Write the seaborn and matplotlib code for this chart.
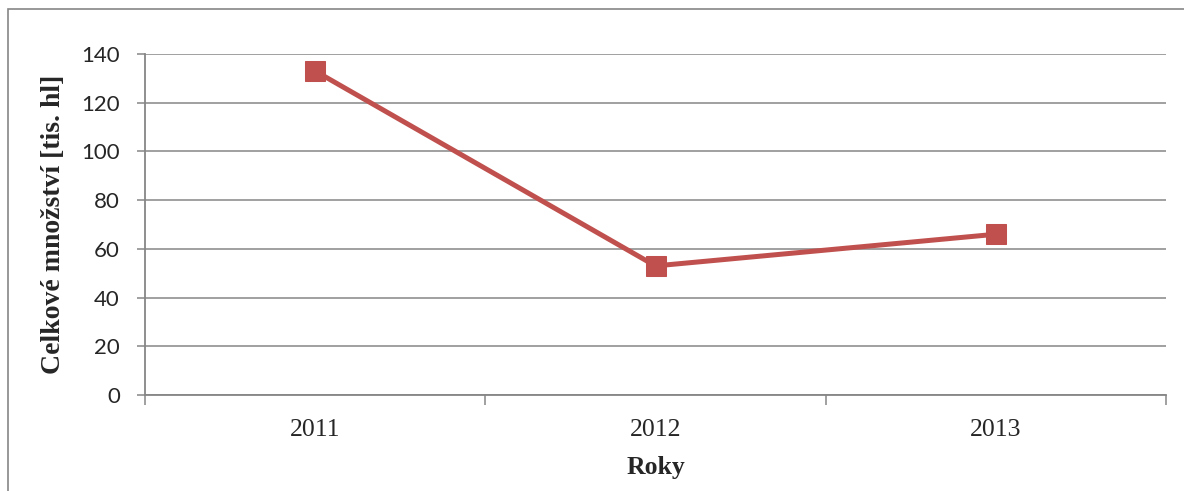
import matplotlib
matplotlib.use("Agg")
import matplotlib.pyplot as plt
import seaborn as sns
from matplotlib.patches import Rectangle

# data
years = ["2011", "2012", "2013"]
amounts = [133, 53, 66]

sns.set_style("white")
plt.rcParams["font.family"] = ["Liberation Serif", "DejaVu Serif"]

grey = "#868686"
red = "#C0504D"

fig = plt.figure(figsize=(11.84, 4.91), dpi=100)
ax = fig.add_axes([145 / 1184, 96 / 491, 1021 / 1184, 341 / 491])

# outer chart frame (Excel style), right/bottom edges cut off
fig.patches.append(Rectangle((8 / 1184, -0.05), 1.2, (491 - 9) / 491 + 0.05,
                             transform=fig.transFigure, fill=False,
                             edgecolor=grey, linewidth=1.2))

sns.lineplot(x=years, y=amounts, ax=ax, color=red, linewidth=3.6,
             marker="s", markersize=14, markeredgecolor=red)

ax.set_ylim(0, 140)
ax.set_yticks(range(0, 141, 20))
ax.set_xlim(-0.5, 2.5)
ax.set_xticks([0, 1, 2])
ax.set_xticklabels(years)
ax.set_xticks([-0.5, 0.5, 1.5, 2.5], minor=True)

ax.grid(axis="y", color=grey, linewidth=1.1)
ax.set_axisbelow(True)
for side in ["top", "right"]:
    ax.spines[side].set_visible(False)
for side in ["left", "bottom"]:
    ax.spines[side].set_color(grey)
    ax.spines[side].set_linewidth(1.3)

ax.tick_params(axis="y", which="major", length=6, width=1.1, color=grey,
               pad=12, labelsize=16, left=True)
for lab in ax.get_yticklabels():
    lab.set_fontfamily(["Lato", "DejaVu Sans"])
ax.tick_params(axis="x", which="major", length=0, pad=17, labelsize=18.5)
ax.tick_params(axis="x", which="minor", length=7, width=1.1, color=grey, bottom=True)

ax.set_xlabel("Roky", fontsize=18.5, fontweight="bold", labelpad=11)
ax.set_ylabel("Celkové množství [tis. hl]", fontsize=20, fontweight="bold", labelpad=11)

fig.savefig("out.png", dpi=100)
